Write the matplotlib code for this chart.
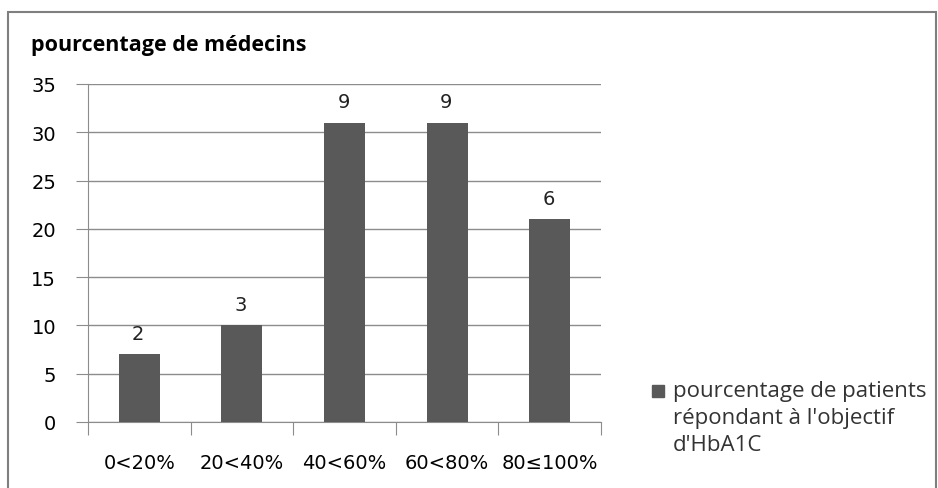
import numpy as np
import matplotlib.pyplot as plt
from matplotlib.patches import Rectangle

categories = ['0<20%', '20<40%', '40<60%', '60<80%', '80≤100%']
values = [7, 10, 31, 31, 21]
labels = ['2', '3', '9', '9', '6']

bar_color = '#595959'
grid_color = '#8c8c8c'
W, H = 938, 489

fig = plt.figure(figsize=(W / 100, H / 100), dpi=100)
# plot area in pixel coords: x 88..601, y 85..423
ax = fig.add_axes([88 / W, 1 - 423 / H, (601 - 88) / W, (423 - 85) / H])

# outer chart frame
fig.patches.append(Rectangle((8 / W, -0.05), 928 / W, 1.05 - 13 / H, transform=fig.transFigure,
                             fill=False, edgecolor='#7f7f7f', linewidth=1.5))

x = np.arange(len(categories))
ax.bar(x, values, width=0.4, color=bar_color, zorder=3)
for xi, v, lab in zip(x, values, labels):
    ax.annotate(lab, (xi, v), xytext=(-1, 21), textcoords='offset pixels',
                ha='center', va='center', fontsize=14, family='DejaVu Sans', color='#222222')

ax.set_xlim(-0.5, len(categories) - 0.5)
ax.set_ylim(0, 35)
ax.set_yticks(range(0, 36, 5))
ax.yaxis.grid(True, color=grid_color, linewidth=1, zorder=0)
ax.set_xticks(np.arange(-0.5, len(categories), 1.0))
ax.set_xticklabels([])
ax.set_xticks(x, minor=True)
ax.set_xticklabels(categories, minor=True, fontsize=14, family='DejaVu Sans')
ax.tick_params(axis='x', which='minor', length=0, pad=22)
ax.tick_params(axis='x', which='major', length=9, color=grid_color)
ax.tick_params(axis='y', length=9, color=grid_color, labelsize=14, pad=14)
for s in ['top', 'right']:
    ax.spines[s].set_visible(False)
for s in ['left', 'bottom']:
    ax.spines[s].set_color(grid_color)

fig.text(31 / W, 1 - 45 / H, 'pourcentage de médecins', fontsize=15.5, fontweight='bold',
         family='Open Sans', va='center')

# legend
fig.patches.append(Rectangle((652 / W, 1 - 398 / H), 12 / W, 12 / H, transform=fig.transFigure,
                             color=bar_color))
legend_lines = ["pourcentage de patients", "répondant à l'objectif", "d'HbA1C"]
for i, line in enumerate(legend_lines):
    fig.text(673 / W, 1 - (392 + 27 * i) / H, line, fontsize=16, family='Open Sans',
             va='center', ha='left', color='#333333')

plt.savefig('out.png', dpi=100)
